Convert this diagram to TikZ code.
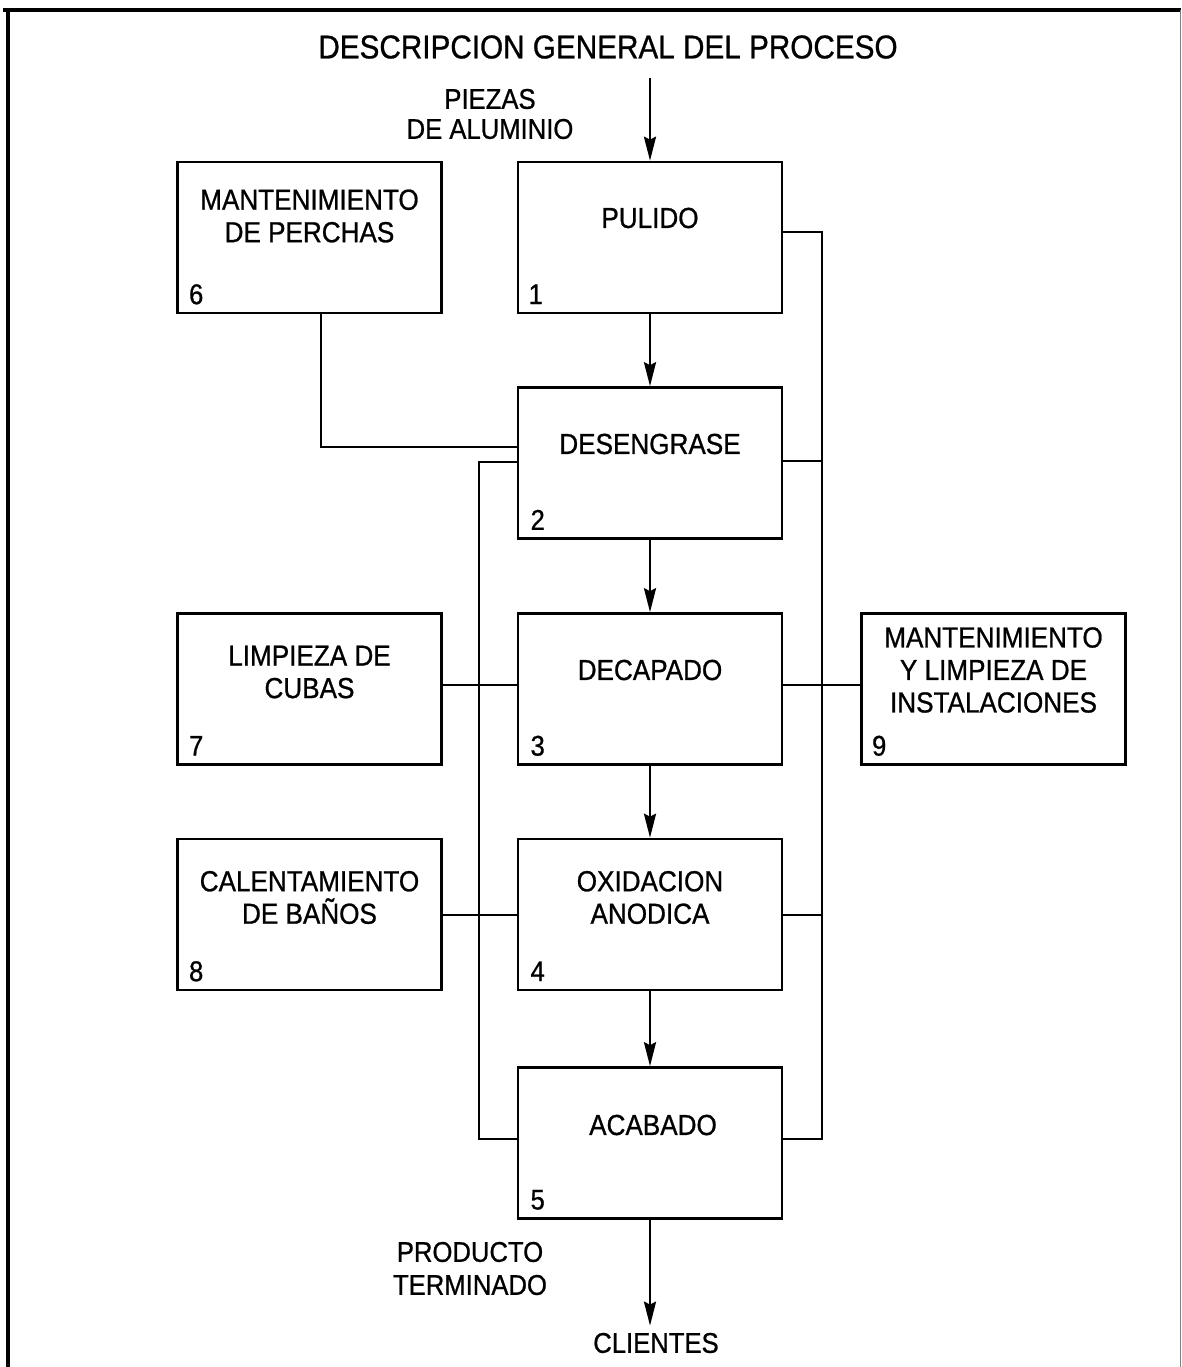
\documentclass[tikz,border=0pt]{standalone}
\usepackage{fontspec}
\setmainfont[FakeStretch=0.9,FakeBold=0.8]{Liberation Sans}
\usetikzlibrary{arrows.meta,calc}
\begin{document}
\begin{tikzpicture}[x=1pt,y=-1pt,
  line width=2.6pt,
  boxst/.style={draw,rectangle,minimum width=264pt,minimum height=151pt,inner sep=0pt,line width=2.6pt},
  txt/.style={align=center,inner sep=0pt,font=\fontsize{29}{32.5}\selectfont},
  lbl/.style={align=center,inner sep=0pt,font=\fontsize{28.5}{30}\selectfont},
  num/.style={inner sep=0pt,font=\fontsize{28.5}{32}\selectfont},
  arr/.style={-{Stealth[length=24pt,width=12pt,inset=3pt]},line width=2.6pt}]
\useasboundingbox (0,0) rectangle (1181,1367);
% frame
\draw[line width=3.2pt] (3,10) -- (1181,10);
\draw[line width=3.2pt] (8,10) -- (8,1367);
\draw[line width=1pt,gray] (1180,10) -- (1180,1367);
% title
\node[inner sep=0pt,font=\fontsize{33}{36}\selectfont] (title) at (608,47) {DESCRIPCION GENERAL DEL PROCESO};
\node[lbl] (piezas) at (490,114) {PIEZAS\\DE ALUMINIO};
% boxes
\node[boxst] (b6) at (309.5,237.5) {};
\node[boxst] (b1) at (650,237.5) {};
\node[boxst] (b2) at (650,463) {};
\node[boxst] (b3) at (650,689) {};
\node[boxst] (b4) at (650,914.5) {};
\node[boxst] (b5) at (650,1143) {};
\node[boxst] (b7) at (309.5,689) {};
\node[boxst] (b8) at (309.5,914.5) {};
\node[boxst] (b9) at (993.5,689) {};
% box texts
\node[txt] (t6) at (309.5,216) {MANTENIMIENTO\\DE PERCHAS};
\node[txt] (t1) at (650,218) {PULIDO};
\node[txt] (t2) at (650,444) {DESENGRASE};
\node[txt] (t3) at (650,670) {DECAPADO};
\node[txt] (t4) at (650,897.5) {OXIDACION\\ANODICA};
\node[txt] (t5) at (653,1125) {ACABADO};
\node[txt] (t7) at (309.5,672) {LIMPIEZA DE\\CUBAS};
\node[txt] (t8) at (309.5,897.5) {CALENTAMIENTO\\DE BAÑOS};
\node[txt] (t9) at (993.5,670) {MANTENIMIENTO\\Y LIMPIEZA DE\\INSTALACIONES};
% numbers
\node[num] (n6) at ($(b6.south west)+(20,-20)$) {6};
\node[num] (n1) at ($(b1.south west)+(19,-20)$) {1};
\node[num] (n2) at ($(b2.south west)+(21,-20)$) {2};
\node[num] (n3) at ($(b3.south west)+(21,-20)$) {3};
\node[num] (n4) at ($(b4.south west)+(21,-20)$) {4};
\node[num] (n5) at ($(b5.south west)+(21,-20)$) {5};
\node[num] (n7) at ($(b7.south west)+(20,-20)$) {7};
\node[num] (n8) at ($(b8.south west)+(20,-20)$) {8};
\node[num] (n9) at ($(b9.south west)+(19,-20)$) {9};
% bottom labels
\node[lbl,font=\fontsize{28.5}{33}\selectfont] (prod) at (470,1268.5) {PRODUCTO\\TERMINADO};
\node[inner sep=0pt,font=\fontsize{28.5}{32}\selectfont] (cli) at (656,1343) {CLIENTES};
% main flow arrows
\coordinate (in) at (650,78);
\draw[arr] (in) -- (in |- b1.north);
\draw[arr] (b1.south) -- (b2.north);
\draw[arr] (b2.south) -- (b3.north);
\draw[arr] (b3.south) -- (b4.north);
\draw[arr] (b4.south) -- (b5.north);
\coordinate (cl) at ($(cli.north)+(0,-6)$);
\draw[arr] (b5.south) -- (b5.south |- cl);
% connector from 6 to 2
\coordinate (j6) at (321,447);
\draw (j6 |- b6.south) -- (j6) -- (j6 -| b2.west);
% left bus
\coordinate (lt) at (479,462);
\coordinate (lb) at (479,1139);
\draw (lt -| b2.west) -- (lt) -- (lb) -- (lb -| b5.west);
\coordinate (y3) at (0,685);
\coordinate (y4) at (0,915);
\draw (b7.east |- y3) -- (b3.west |- y3);
\draw (b8.east |- y4) -- (b4.west |- y4);
% right bus
\coordinate (rt) at (822,232);
\coordinate (rb) at (822,1139);
\coordinate (y2) at (0,461);
\draw (rt -| b1.east) -- (rt) -- (rb) -- (rb -| b5.east);
\draw (b2.east |- y2) -- (rt |- y2);
\draw (b3.east |- y3) -- (b9.west |- y3);
\draw (b4.east |- y4) -- (rt |- y4);
\end{tikzpicture}
\end{document}
